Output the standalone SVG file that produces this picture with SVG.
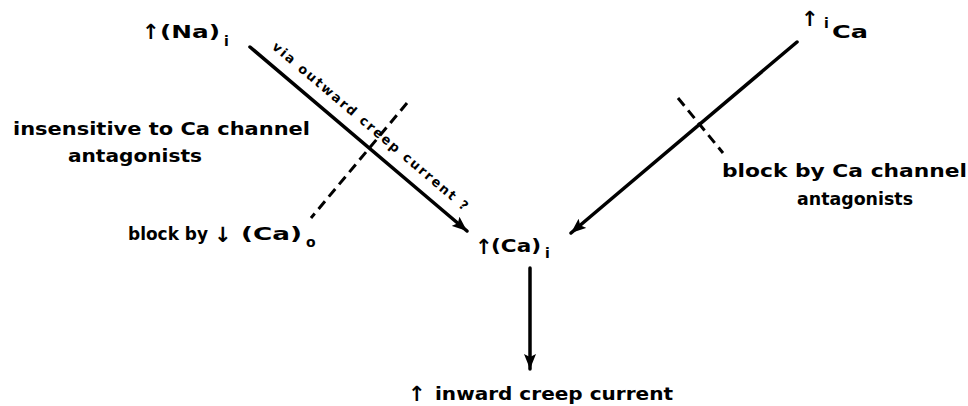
<svg xmlns="http://www.w3.org/2000/svg" width="968" height="406" viewBox="0 0 968 406">
<style>
.t{font-family:"DejaVu Sans","Liberation Sans",sans-serif;font-weight:bold;font-size:17px;fill:#000}
.p{font-size:18px}
.s{font-size:14px}
.v{font-size:13px}
.a{font-size:21px}
.ln{stroke:#000;stroke-width:3.5;fill:none;stroke-linecap:round}
.dl{stroke:#000;stroke-width:3;fill:none;stroke-dasharray:10 6}
</style>
<defs>
<marker id="ah" markerUnits="userSpaceOnUse" markerWidth="16" markerHeight="12" refX="15" refY="6" orient="auto">
<path d="M0,0 L15,6 L0,12 L3,6 z" fill="#000"/>
</marker>
</defs>
<rect width="968" height="406" fill="#fff"/>
<g id="connectors">
<line class="ln" x1="250" y1="47" x2="467" y2="231" marker-end="url(#ah)"/>
<line class="ln" x1="797" y1="42" x2="571" y2="233" marker-end="url(#ah)"/>
<line class="ln" x1="530" y1="268" x2="530" y2="369" marker-end="url(#ah)"/>
<line class="dl" x1="407" y1="103" x2="311" y2="218"/>
<line class="dl" x1="678" y1="98" x2="723" y2="153"/>
<g transform="translate(250,47) rotate(40.3)">
<text class="t v" x="17" y="-13" textLength="252" lengthAdjust="spacing">via outward creep current ?</text>
</g>
</g>
<g id="na">
<text class="t a" x="142" y="39">↑</text>
<text class="t p" x="160" y="38" textLength="60" lengthAdjust="spacingAndGlyphs">(Na)</text>
<text class="t s" x="224" y="46">i</text>
</g>
<g id="ica">
<text class="t a" x="801" y="26">↑</text>
<text class="t s" x="824" y="28">i</text>
<text class="t" x="832" y="38" textLength="36" lengthAdjust="spacingAndGlyphs">Ca</text>
</g>
<g id="cai">
<text class="t a" x="475" y="254">↑</text>
<text class="t p" x="491" y="252" textLength="50" lengthAdjust="spacingAndGlyphs">(Ca)</text>
<text class="t s" x="545" y="258">i</text>
</g>
<g id="inward">
<text class="t a" x="408" y="401">↑</text>
<text class="t" x="435" y="400" textLength="238" lengthAdjust="spacingAndGlyphs">inward creep current</text>
</g>
<g id="insensitive">
<text class="t" x="13" y="135" textLength="297" lengthAdjust="spacingAndGlyphs">insensitive  to Ca channel</text>
<text class="t" x="68" y="162" textLength="134" lengthAdjust="spacingAndGlyphs">antagonists</text>
</g>
<g id="blockcao">
<text class="t" x="128" y="240" textLength="80" lengthAdjust="spacingAndGlyphs">block by</text>
<text class="t a" x="214" y="242">↓</text>
<text class="t p" x="241" y="240" textLength="61" lengthAdjust="spacingAndGlyphs">(Ca)</text>
<text class="t s" x="306" y="247">o</text>
</g>
<g id="blockca">
<text class="t" x="722" y="177" textLength="245" lengthAdjust="spacingAndGlyphs">block by Ca channel</text>
<text class="t" x="797" y="205" textLength="116" lengthAdjust="spacingAndGlyphs" font-size="16">antagonists</text>
</g>
</svg>
